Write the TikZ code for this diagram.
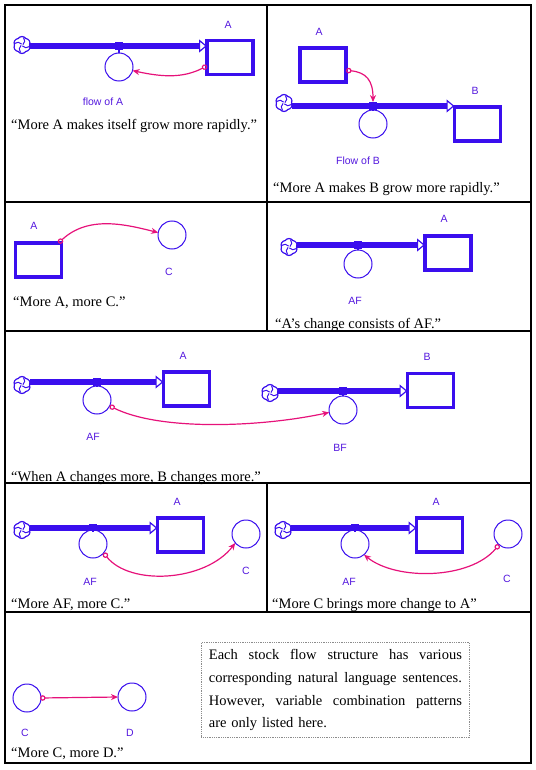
\documentclass[tikz,border=0pt]{standalone}
\usepackage{fontspec}
\setmainfont{Liberation Serif}
\setsansfont{Liberation Sans}
\usetikzlibrary{arrows.meta,shapes.symbols}
\definecolor{fb}{RGB}{58,14,238}
\definecolor{lb}{RGB}{84,24,222}
\definecolor{pk}{RGB}{230,18,122}
\tikzset{
  stock/.style={draw=fb,line width=3.6pt,minimum width=46pt,minimum height=34pt,inner sep=0pt,outer sep=0pt},
  aux/.style={circle,draw=fb,line width=1pt,minimum size=28pt,inner sep=0pt,outer sep=0pt,fill=white},
  valve/.style={fill=fb,minimum size=7.5pt,inner sep=0pt},
  src/.style={cloud,cloud puffs=6,cloud puff arc=110,aspect=1,draw=fb,line width=1.2pt,fill=white,minimum size=17pt,inner sep=0pt,
    path picture={\foreach \a in {20,110,200,290}{\draw[fb,line width=1pt] (path picture bounding box.center) ++(\a:1pt) arc[start angle=\a-70,end angle=\a+20,radius=5pt];}}},
  pipe/.style={draw=fb,line width=5.5pt,-{Triangle[length=8pt,width=13pt,line width=1.2pt,fill=white]}},
  stem/.style={draw=fb,line width=1.5pt},
  link/.style={draw=pk,line width=1.2pt,{Circle[open,length=5.5pt,width=5.5pt]}-{Stealth[length=7pt,width=6pt]}},
  lbl/.style={font=\sffamily\fontsize{10.5}{11}\selectfont,text=lb,inner sep=0pt},
  sent/.style={font=\fontsize{14.5}{16}\selectfont,anchor=base west,inner sep=0pt},
  grid/.style={draw=black,line width=1.1pt}
}
\begin{document}
\begin{tikzpicture}[x=1pt,y=-1pt]
\useasboundingbox (0,0) rectangle (535,770);
% table
\draw[grid] (5,5) rectangle (531,763);
\draw[grid] (5,202) -- (531,202);
\draw[grid] (5,331) -- (531,331);
\draw[grid] (5,483) -- (531,483);
\draw[grid] (5,612) -- (531,612);
\draw[grid] (267,5) -- (267,331);
\draw[grid] (267,483) -- (267,612);

% ---------- panel 1
\node[stock] (A1) at (230,57.5) {};
\node[lbl] (lA1) at (228,25) {A};
\node[src] (c1) at (22,45) {};
\node[valve] (v1) at (119,46) {};
\node[aux] (f1) at (119,67) {};
\draw[stem] (v1) -- (f1.north);
\draw[pipe] (c1.east |- v1) -- (A1.west |- v1);
\node[lbl] (lf1) at (103,102) {flow of A};
\draw[link] (A1.200) .. controls +(-25,13) and +(28,6) .. (f1.-15);
\node[sent] (s1) at (11,129.5) {“More A makes itself grow more rapidly.”};

% ---------- panel 2
\node[stock] (A2) at (323,65) {};
\node[lbl] (lA2) at (319,32) {A};
\node[stock] (B2) at (477.5,124) {};
\node[lbl] (lB2) at (475,91) {B};
\node[src] (c2) at (284,103) {};
\node[valve] (v2) at (373,106) {};
\node[aux] (f2) at (373,124) {};
\draw[stem] (v2) -- (f2.north);
\draw[pipe] (c2.east |- v2) -- (B2.west |- v2);
\node[lbl] (lf2) at (358,161) {Flow of B};
\draw[link] (A2.-13) .. controls +(20,2) and +(0,-22) .. (v2.north);
\node[sent] (s2) at (273,193) {“More A makes B grow more rapidly.”};

% ---------- panel 3
\node[stock] (A3) at (38.5,260) {};
\node[lbl] (lA3) at (34,226) {A};
\node[aux] (C3) at (172,235) {};
\node[lbl] (lC3) at (169,272) {C};
\draw[link] ([xshift=-3pt]A3.north east) .. controls +(30,-28) and +(-32,-8) .. (C3.170);
\node[sent] (s3) at (13,306) {“More A, more C.”};

% ---------- panel 4
\node[stock] (A4) at (448,253) {};
\node[lbl] (lA4) at (444,219) {A};
\node[src] (c4) at (289,247) {};
\node[valve] (v4) at (358,245) {};
\node[aux] (f4) at (358,264) {};
\draw[stem] (v4) -- (f4.north);
\draw[pipe] (c4.east |- v4) -- (A4.west |- v4);
\node[lbl] (lf4) at (355,301) {AF};
\node[sent] (s4) at (275,328) {“A’s change consists of AF.”};

% ---------- panel 5
\node[stock] (A5) at (186.5,389) {};
\node[lbl] (lA5) at (183,356) {A};
\node[src] (c5a) at (22,385) {};
\node[valve] (v5a) at (97,382) {};
\node[aux] (f5a) at (97,400) {};
\draw[stem] (v5a) -- (f5a.north);
\draw[pipe] (c5a.east |- v5a) -- (A5.west |- v5a);
\node[lbl] (lf5a) at (93,437) {AF};
\node[stock] (B5) at (430.5,390.5) {};
\node[lbl] (lB5) at (427,357) {B};
\node[src] (c5b) at (270,393) {};
\node[valve] (v5b) at (343,391) {};
\node[aux] (f5b) at (343,410) {};
\draw[stem] (v5b) -- (f5b.north);
\draw[pipe] (c5b.east |- v5b) -- (B5.west |- v5b);
\node[lbl] (lf5b) at (340,448) {BF};
\draw[link] (f5a.-25) .. controls +(50,25) and +(-70,15) .. (f5b.190);
\node[sent] (s5) at (11,481) {“When A changes more, B changes more.”};

% ---------- panel 6
\node[stock] (A6) at (180.5,535) {};
\node[lbl] (lA6) at (177,502) {A};
\node[src] (c6) at (22,530) {};
\node[valve] (v6) at (93,528) {};
\node[aux] (f6) at (93,544) {};
\draw[stem] (v6) -- (f6.north);
\draw[pipe] (c6.east |- v6) -- (A6.west |- v6);
\node[lbl] (lf6) at (90,582) {AF};
\node[aux] (C6) at (246,534) {};
\node[lbl] (lC6) at (246,571) {C};
\draw[link] (f6.-40) .. controls +(26,33) and +(-30,39) .. (C6.220);
\node[sent] (s6) at (11,608) {“More AF, more C.”};

% ---------- panel 7
\node[stock] (A7) at (439.5,535) {};
\node[lbl] (lA7) at (436,502) {A};
\node[src] (c7) at (283,530) {};
\node[valve] (v7) at (355,528) {};
\node[aux] (f7) at (355,544) {};
\draw[stem] (v7) -- (f7.north);
\draw[pipe] (c7.east |- v7) -- (A7.west |- v7);
\node[lbl] (lf7) at (349,582) {AF};
\node[aux] (C7) at (508,534) {};
\node[lbl] (lC7) at (507,579) {C};
\draw[link] (C7.230) .. controls +(-29,35) and +(32,26) .. (f7.-50);
\node[sent] (s7) at (272,608) {“More C brings more change to A”};

% ---------- panel 8
\node[aux] (C8) at (27,698) {};
\node[lbl] (lC8) at (25,733) {C};
\node[aux] (D8) at (132,697) {};
\node[lbl] (lD8) at (130,733) {D};
\draw[link] ([xshift=-1pt]C8.east) -- (D8.west);
\node[sent] (s8) at (11,757) {“More C, more D.”};
\node[draw=black!45,densely dotted,line width=0.8pt,anchor=north west,inner xsep=7.5pt,inner ysep=7pt,text width=253pt,
  font=\fontsize{14.5}{22.7}\selectfont] (note) at (201,642) {%
  Each\hfill stock\hfill flow\hfill structure\hfill has\hfill various\\
  corresponding\hfill natural\hfill language\hfill sentences.\\
  However,\hfill variable\hfill combination\hfill patterns\\
  are only listed here.};
\end{tikzpicture}
\end{document}
